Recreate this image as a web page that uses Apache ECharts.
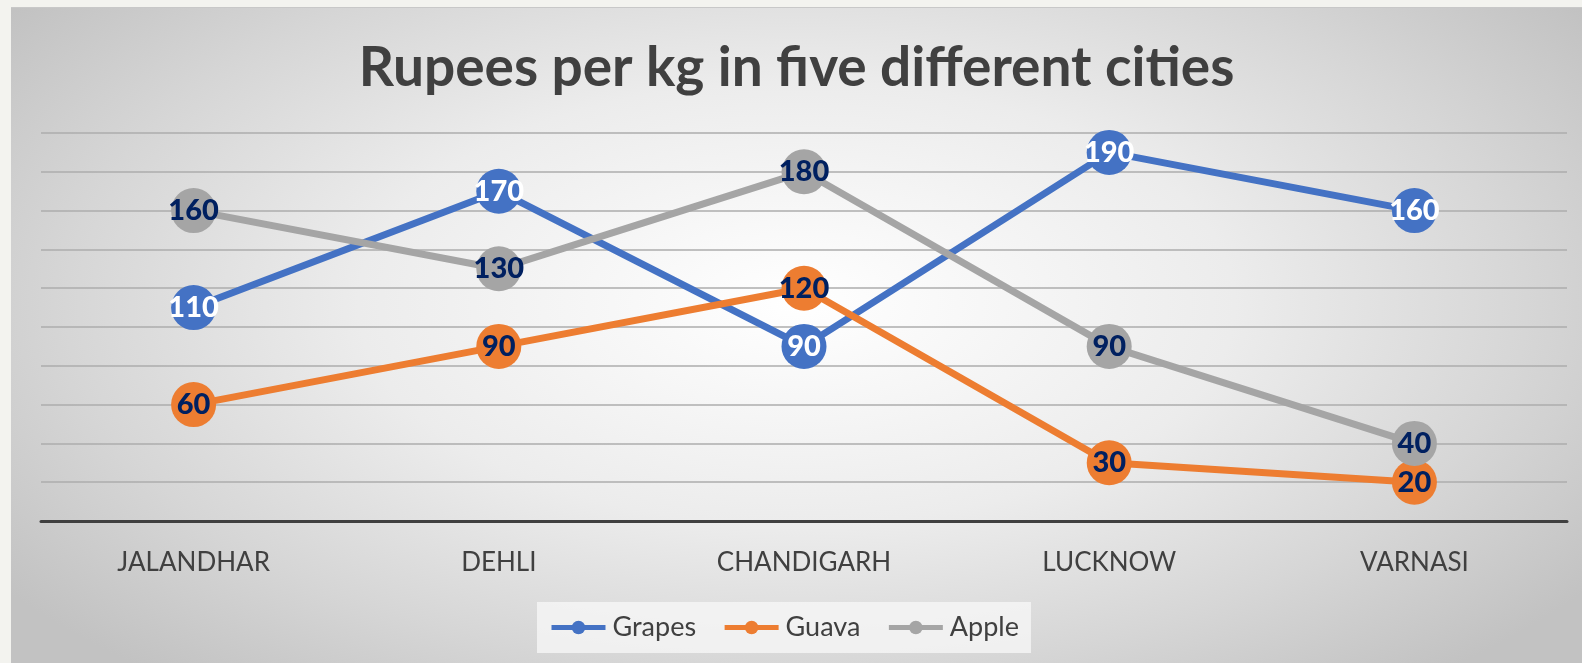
<!DOCTYPE html>
<html>
<head>
<meta charset="utf-8">
<script src="https://cdn.jsdelivr.net/npm/echarts@6/dist/echarts.min.js"></script>
<style>
    html, body { margin: 0; padding: 0; width: 1582px; height: 663px; background: #f3f3ef; overflow: hidden; }
    #echart {
        position: absolute; left: 11px; top: 7px; width: 1571px; height: 656px;
        border-top: 1px solid #c8c8c8;
        background: radial-gradient(ellipse 62% 75% at 50% 45%, #ffffff 0%, #ececec 45%, #d6d6d6 75%, #c2c2c2 100%);
    }
</style>
</head>
<body>
<div id="echart"></div>
<script>
var cities = ['JALANDHAR', 'DEHLI', 'CHANDIGARH', 'LUCKNOW', 'VARNASI'];
var grapes = [110, 170, 90, 190, 160];
var guava = [60, 90, 120, 30, 20];
var apple = [160, 130, 180, 90, 40];

let myChart = echarts.init(document.getElementById('echart'));

function lineSeries(name, data, color, labelColor) {
    return {
        name: name,
        type: 'line',
        data: data,
        symbol: 'circle',
        symbolSize: 45,
        itemStyle: { color: color },
        lineStyle: { color: color, width: 7 },
        label: {
            show: true,
            position: 'inside',
            color: labelColor,
            fontFamily: 'Lato',
            fontWeight: 900,
            fontSize: 29
        }
    };
}

var option = {
    backgroundColor: 'transparent',
    textStyle: { fontFamily: 'Lato' },
    title: {
        text: 'Rupees per kg in five different cities',
        left: 'center',
        top: 28,
        textStyle: { fontSize: 55, fontWeight: 'bold', color: '#404040', fontFamily: 'Lato' }
    },
    legend: {
        data: ['Grapes', 'Guava', 'Apple'],
        bottom: 11,
        left: 526,
        backgroundColor: 'rgba(248,248,248,0.75)',
        padding: [12, 12],
        itemGap: 26,
        itemWidth: 54,
        itemHeight: 17,
        lineStyle: { width: 5 },
        textStyle: { fontSize: 27, color: '#404040', padding: [0, 0, 0, 2] }
    },
    grid: { left: 30, right: 15, top: 125, bottom: 143 },
    xAxis: {
        type: 'category',
        data: cities,
        axisLine: { lineStyle: { color: '#404040', width: 3 } },
        axisTick: { show: false },
        axisLabel: { fontSize: 26, color: '#404040', margin: 29 }
    },
    yAxis: {
        type: 'value',
        min: 0,
        max: 200,
        interval: 20,
        axisLabel: { show: false },
        axisLine: { show: false },
        axisTick: { show: false },
        splitLine: { lineStyle: { color: '#acacac', width: 1.5 } }
    },
    series: [
        lineSeries('Grapes', grapes, '#4472C4', '#ffffff'),
        lineSeries('Guava', guava, '#ED7D31', '#002060'),
        lineSeries('Apple', apple, '#A5A5A5', '#002060')
    ]
};
myChart.setOption(option);
</script>
</body>
</html>
